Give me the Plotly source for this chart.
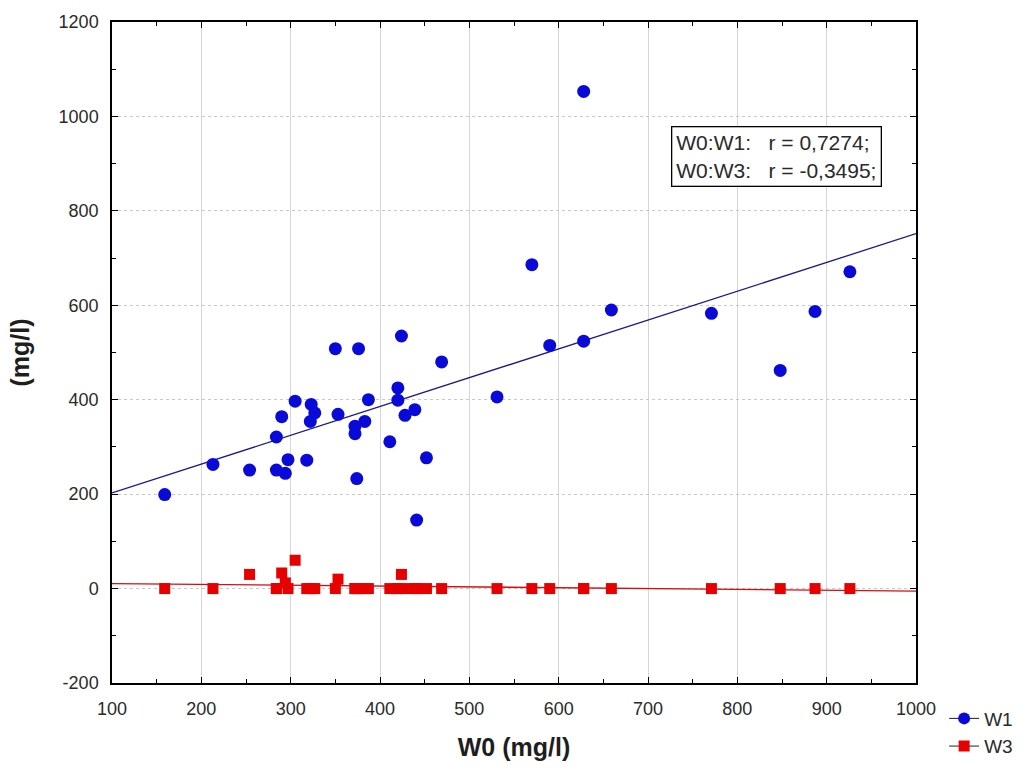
import numpy as np
import plotly.graph_objects as go

# Sample measurements (mg/l)
w0 = [159, 213, 254, 284, 284, 290, 294, 297, 305, 318,
      322, 323, 327, 350, 353, 372, 372, 374, 376, 383,
      387, 411, 420, 420, 424, 428, 439, 441, 452, 469,
      531, 570, 590, 628, 628, 659, 771, 848, 887, 926]
w1 = [199, 263, 251, 321, 251, 364, 244, 273, 397, 272,
      354, 390, 372, 508, 369, 344, 328, 233, 508, 354,
      400, 311, 425, 399, 535, 367, 379, 145, 277, 480,
      406, 686, 515, 524, 1053, 590, 583, 462, 587, 671]
w3 = [0, 0, 30, 0, 0, 33, 12, 0, 60, 0,
      0, 0, 0, 0, 20, 0, 0, 0, 0, 0,
      0, 0, 0, 0, 30, 0, 0, 0, 0, 0,
      0, 0, 0, 0, 0, 0, 0, 0, 0, 0]

x_ticks = [100, 200, 300, 400, 500, 600, 700, 800, 900, 1000]
y_ticks = [-200, 0, 200, 400, 600, 800, 1000, 1200]
y_tick_text = ["-200", "0", "200", "400", "600", "800", "1000", "1200"]

corr_lines = ["W0:W1:   r = 0,7274;", "W0:W3:   r = -0,3495;"]

x_range = [100, 1000]
y_range = [-200, 1200]

blue = "#0a0ad8"
red = "#e60000"
font_family = "Liberation Sans, Arial, sans-serif"
text_color = "#2a2a2a"

fit_x = np.array(x_range, dtype=float)
b1 = np.polyfit(w0, w1, 1)
b3 = np.polyfit(w0, w3, 1)

fig = go.Figure()

fig.add_trace(go.Scatter(x=fit_x, y=np.polyval(b1, fit_x), mode="lines",
                         line=dict(color="#1a1a8c", width=1.3), showlegend=False))
fig.add_trace(go.Scatter(x=fit_x, y=np.polyval(b3, fit_x), mode="lines",
                         line=dict(color="#d01010", width=1.3), showlegend=False))
fig.add_trace(go.Scatter(x=w0, y=w3, mode="markers", name="W3", showlegend=False,
                         marker=dict(symbol="square", size=11, color=red)))
fig.add_trace(go.Scatter(x=w0, y=w1, mode="markers", name="W1", showlegend=False,
                         marker=dict(symbol="circle", size=13, color=blue)))

# legend entries
fig.add_trace(go.Scatter(x=[None], y=[None], mode="lines+markers", name="W1",
                         line=dict(color="#1a1a3a", width=1),
                         marker=dict(symbol="circle", size=12, color=blue)))
fig.add_trace(go.Scatter(x=[None], y=[None], mode="lines+markers", name="W3",
                         line=dict(color="#3a1a1a", width=1),
                         marker=dict(symbol="square", size=11, color=red)))

axis_common = dict(
    showline=True, linecolor="black", linewidth=1.5, mirror="ticks",
    ticks="inside", ticklen=6, tickcolor="black", tickwidth=1,
    showgrid=True, gridwidth=1,
    zeroline=False,
    tickfont=dict(family=font_family, size=18, color=text_color),
    minor=dict(ticks="inside", ticklen=4, tickcolor="black", showgrid=False),
)

fig.update_xaxes(range=x_range, tickvals=x_ticks,
                 gridcolor="#d6d6d6", griddash="solid",
                 minor_dtick=50, minor_tick0=100,
                 ticklabelstandoff=9,
                 title=dict(text="<b>W0 (mg/l)</b>", standoff=20,
                            font=dict(family=font_family, size=25, color="#1e1e1e")),
                 **axis_common)
fig.update_yaxes(range=y_range, tickvals=y_ticks, ticktext=y_tick_text,
                 gridcolor="#c8c8c8", griddash="dot",
                 minor_dtick=100, minor_tick0=0,
                 ticklabelstandoff=8,
                 title=dict(text="<b>(mg/l)</b>", standoff=22,
                            font=dict(family=font_family, size=25, color="#1e1e1e")),
                 **axis_common)

fig.add_annotation(
    xref="paper", yref="paper", x=0.827, y=0.797,
    xanchor="center", yanchor="middle",
    text="<br>".join(corr_lines), showarrow=False, align="left",
    font=dict(family=font_family, size=21, color=text_color),
    bordercolor="black", borderwidth=1.3, borderpad=4, bgcolor="white",
)

fig.update_layout(
    width=1028, height=769,
    margin=dict(l=112, r=112, t=22, b=86, autoexpand=False),
    plot_bgcolor="white", paper_bgcolor="white",
    legend=dict(x=1.035, y=-0.025, xanchor="left", yanchor="top",
                font=dict(family=font_family, size=19, color=text_color),
                itemwidth=30, tracegroupgap=8, bgcolor="rgba(0,0,0,0)"),
)

fig.write_html("out.html")
